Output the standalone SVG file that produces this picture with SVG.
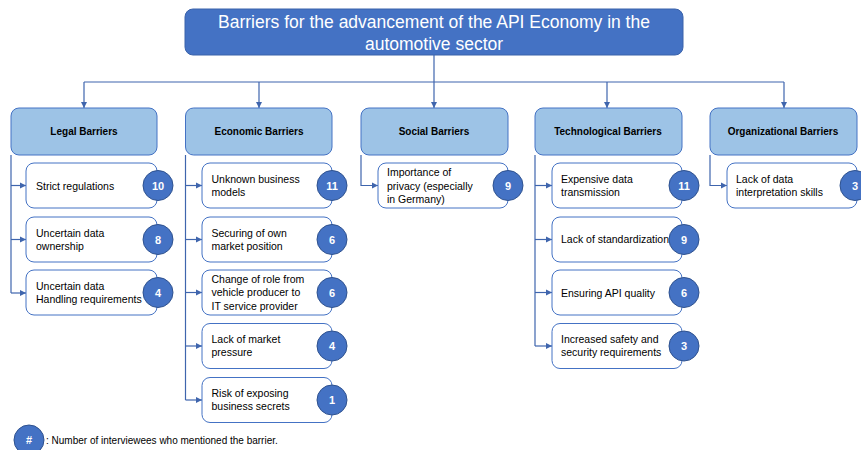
<svg xmlns="http://www.w3.org/2000/svg" width="861" height="450" viewBox="0 0 861 450">
<defs>
<marker id="arr" markerUnits="userSpaceOnUse" markerWidth="7" markerHeight="7" refX="6" refY="3.5" orient="auto">
<path d="M0,0.5 L6,3.5 L0,6.5 z" fill="#3F65AD"/>
</marker>
<style>
.title{fill:#4472C4;stroke:#3A62AA;stroke-width:1}
.tt{font-family:"Liberation Sans",Arial,sans-serif;font-size:17.5px;fill:#fff;text-anchor:middle}
.cat{fill:#9DC3E6;stroke:#4472C4;stroke-width:1}
.ct{font-family:"Liberation Sans",Arial,sans-serif;font-size:10px;font-weight:bold;fill:#000;text-anchor:middle}
.item{fill:#fff;stroke:#4472C4;stroke-width:1}
.it{font-family:"Liberation Sans",Arial,sans-serif;font-size:10.5px;fill:#000}
.num{fill:#4472C4;stroke:#2F528F;stroke-width:1}
.nt{font-family:"Liberation Sans",Arial,sans-serif;font-size:11px;font-weight:bold;fill:#fff;text-anchor:middle}
.con{fill:none;stroke:#3F65AD;stroke-width:1.2}
.lg{font-family:"Liberation Sans",Arial,sans-serif;font-size:10px;fill:#000}
</style>
</defs>
<rect width="861" height="450" fill="#fff"/>

<g id="title">
<rect class="title" x="185" y="9" width="498" height="46" rx="8"/>
<text class="tt" x="434" y="28">Barriers for the advancement of the API Economy in the</text>
<text class="tt" x="434" y="50">automotive sector</text>
</g>

<g id="connectors">
<path class="con" d="M434,55 V82"/>
<path class="con" d="M84,82 H784"/>
<path class="con" d="M84,82 V108" marker-end="url(#arr)"/>
<path class="con" d="M259,82 V108" marker-end="url(#arr)"/>
<path class="con" d="M434,82 V108" marker-end="url(#arr)"/>
<path class="con" d="M607,82 V108" marker-end="url(#arr)"/>
<path class="con" d="M784,82 V108" marker-end="url(#arr)"/>
<path class="con" d="M11,155 V293"/>
<path class="con" d="M11,185.5 H26" marker-end="url(#arr)"/>
<path class="con" d="M11,239.5 H26" marker-end="url(#arr)"/>
<path class="con" d="M11,293 H26" marker-end="url(#arr)"/>
<path class="con" d="M185.5,155 V400"/>
<path class="con" d="M185.5,185.5 H202" marker-end="url(#arr)"/>
<path class="con" d="M185.5,239.5 H202" marker-end="url(#arr)"/>
<path class="con" d="M185.5,292.5 H202" marker-end="url(#arr)"/>
<path class="con" d="M185.5,346 H202" marker-end="url(#arr)"/>
<path class="con" d="M185.5,400 H202" marker-end="url(#arr)"/>
<path class="con" d="M361,155 V185.5 H378" marker-end="url(#arr)"/>
<path class="con" d="M535,155 V346"/>
<path class="con" d="M535,185.5 H552" marker-end="url(#arr)"/>
<path class="con" d="M535,239.5 H552" marker-end="url(#arr)"/>
<path class="con" d="M535,292.5 H552" marker-end="url(#arr)"/>
<path class="con" d="M535,346 H552" marker-end="url(#arr)"/>
<path class="con" d="M710,155 V185.5 H727" marker-end="url(#arr)"/>
</g>

<g id="cat-legal">
<rect class="cat" x="11" y="108" width="146" height="47" rx="8"/>
<text class="ct" x="84" y="135">Legal Barriers</text>
</g>
<g id="cat-economic">
<rect class="cat" x="185.5" y="108" width="146.5" height="47" rx="8"/>
<text class="ct" x="259" y="135">Economic Barriers</text>
</g>
<g id="cat-social">
<rect class="cat" x="361" y="108" width="147" height="47" rx="8"/>
<text class="ct" x="434" y="135">Social Barriers</text>
</g>
<g id="cat-tech">
<rect class="cat" x="535" y="108" width="147" height="47" rx="8"/>
<text class="ct" x="608" y="135">Technological Barriers</text>
</g>
<g id="cat-org">
<rect class="cat" x="710" y="108" width="147" height="47" rx="8"/>
<text class="ct" x="783" y="135">Organizational Barriers</text>
</g>

<!-- Legal items -->
<g id="legal-1">
<rect class="item" x="26" y="163" width="131" height="45" rx="8"/>
<text class="it" x="36" y="189.5">Strict regulations</text>
<circle class="num" cx="158" cy="185.5" r="15"/>
<text class="nt" x="158" y="189.5">10</text>
</g>
<g id="legal-2">
<rect class="item" x="26" y="217" width="131" height="45" rx="8"/>
<text class="it" x="36" y="236.5">Uncertain data</text>
<text class="it" x="36" y="249.5">ownership</text>
<circle class="num" cx="158" cy="239.5" r="15"/>
<text class="nt" x="158" y="243.5">8</text>
</g>
<g id="legal-3">
<rect class="item" x="26" y="270" width="131" height="45" rx="8"/>
<text class="it" x="36" y="289.5">Uncertain data</text>
<text class="it" x="36" y="302.5">Handling requirements</text>
<circle class="num" cx="158" cy="292.5" r="15"/>
<text class="nt" x="158" y="296.5">4</text>
</g>

<!-- Economic items -->
<g id="eco-1">
<rect class="item" x="202" y="163" width="130" height="45" rx="8"/>
<text class="it" x="211.5" y="182.5">Unknown business</text>
<text class="it" x="211.5" y="195.5">models</text>
<circle class="num" cx="332" cy="185.5" r="15"/>
<text class="nt" x="332" y="189.5">11</text>
</g>
<g id="eco-2">
<rect class="item" x="202" y="217" width="130" height="45" rx="8"/>
<text class="it" x="211.5" y="236.5">Securing of own</text>
<text class="it" x="211.5" y="249.5">market position</text>
<circle class="num" cx="332" cy="239.5" r="15"/>
<text class="nt" x="332" y="243.5">6</text>
</g>
<g id="eco-3">
<rect class="item" x="202" y="270" width="130" height="45" rx="8"/>
<text class="it" x="211.5" y="282.5">Change of role from</text>
<text class="it" x="211.5" y="296">vehicle producer to</text>
<text class="it" x="211.5" y="309.5">IT service provider</text>
<circle class="num" cx="332" cy="292.5" r="15"/>
<text class="nt" x="332" y="296.5">6</text>
</g>
<g id="eco-4">
<rect class="item" x="202" y="323.5" width="130" height="45" rx="8"/>
<text class="it" x="211.5" y="343">Lack of market</text>
<text class="it" x="211.5" y="356">pressure</text>
<circle class="num" cx="332" cy="346" r="15"/>
<text class="nt" x="332" y="350">4</text>
</g>
<g id="eco-5">
<rect class="item" x="202" y="377.5" width="130" height="45" rx="8"/>
<text class="it" x="211.5" y="396.5">Risk of exposing</text>
<text class="it" x="211.5" y="409.5">business secrets</text>
<circle class="num" cx="332" cy="400" r="15"/>
<text class="nt" x="332" y="404">1</text>
</g>

<!-- Social -->
<g id="soc-1">
<rect class="item" x="378" y="163" width="130" height="45" rx="8"/>
<text class="it" x="387" y="176">Importance of</text>
<text class="it" x="387" y="189.5">privacy (especially</text>
<text class="it" x="387" y="203">in Germany)</text>
<circle class="num" cx="508" cy="185.5" r="15"/>
<text class="nt" x="508" y="189.5">9</text>
</g>

<!-- Tech -->
<g id="tech-1">
<rect class="item" x="552" y="163" width="130" height="45" rx="8"/>
<text class="it" x="561" y="182.5">Expensive data</text>
<text class="it" x="561" y="195.5">transmission</text>
<circle class="num" cx="684" cy="185.5" r="15"/>
<text class="nt" x="684" y="189.5">11</text>
</g>
<g id="tech-2">
<rect class="item" x="552" y="217" width="130" height="45" rx="8"/>
<text class="it" x="561" y="243">Lack of standardization</text>
<circle class="num" cx="684" cy="239.5" r="15"/>
<text class="nt" x="684" y="243.5">9</text>
</g>
<g id="tech-3">
<rect class="item" x="552" y="270" width="130" height="45" rx="8"/>
<text class="it" x="561" y="296.5">Ensuring API quality</text>
<circle class="num" cx="684" cy="292.5" r="15"/>
<text class="nt" x="684" y="296.5">6</text>
</g>
<g id="tech-4">
<rect class="item" x="552" y="323.5" width="130" height="45" rx="8"/>
<text class="it" x="561" y="343">Increased safety and</text>
<text class="it" x="561" y="356">security requirements</text>
<circle class="num" cx="684" cy="346" r="15"/>
<text class="nt" x="684" y="350">3</text>
</g>

<!-- Org -->
<g id="org-1">
<rect class="item" x="727" y="163" width="130" height="45" rx="8"/>
<text class="it" x="736" y="182.5">Lack of data</text>
<text class="it" x="736" y="195.5">interpretation skills</text>
<circle class="num" cx="855" cy="185.5" r="15"/>
<text class="nt" x="855" y="189.5">3</text>
</g>

<g id="legend">
<circle class="num" cx="29" cy="440" r="15"/>
<text class="nt" x="29" y="444">#</text>
<text class="lg" x="46" y="443.5">: Number of interviewees who mentioned the barrier.</text>
</g>
</svg>
